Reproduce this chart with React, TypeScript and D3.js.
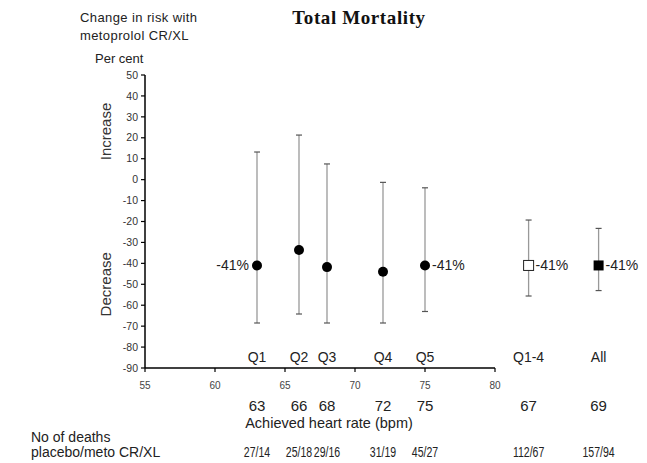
import React from "react";
import * as d3 from "d3";

// quintile groups + pooled results
const groups = ["Q1", "Q2", "Q3", "Q4", "Q5", "Q1-4", "All"];
const heartRate = [63, 66, 68, 72, 75, 67, 69];
// x position on the heart-rate axis (Q1-4 and All sit beyond 80)
const xPos = [63, 66, 68, 72, 75, 82.4, 87.4];
const estimate = [-41, -33.6, -41.8, -44, -41, -41, -41];
const upper = [13.2, 21.3, 7.5, -1.3, -3.9, -19.3, -23.3];
const lower = [-68.5, -64.2, -68.5, -68.5, -63, -55.6, -53];
const deaths = ["27/14", "25/18", "29/16", "31/19", "45/27", "112/67", "157/94"];
const markerType = ["dot", "dot", "dot", "dot", "dot", "open", "filled"];
const pctLabel = ["left", "", "", "", "right", "right", "right"];

const yTicks = d3.range(50, -91, -10);
const xTicks = [55, 60, 65, 70, 75, 80];

const font = "Liberation Sans, Arial, sans-serif";

export default function App() {
  const width = 647;
  const height = 463;

  const x = d3.scaleLinear().domain([55, 80]).range([145, 495]);
  const y = d3.scaleLinear().domain([50, -90]).range([75, 368]);

  const data = groups.map((g, i) => ({
    g,
    hr: heartRate[i],
    x: xPos[i],
    est: estimate[i],
    hi: upper[i],
    lo: lower[i],
    deaths: deaths[i],
    marker: markerType[i],
    label: pctLabel[i],
  }));

  return (
    <svg
      width={width}
      height={height}
      style={{ position: "absolute", left: 0, top: 0, background: "#fff" }}
      fontFamily={font}
    >
      <rect width={width} height={height} fill="#fff" />

      {/* title + axis caption */}
      <text
        x={359}
        y={24}
        textAnchor="middle"
        fontFamily="Liberation Serif, Times New Roman, serif"
        fontWeight="bold"
        fontSize={19}
        letterSpacing={0.6}
        fill="#111"
      >
        Total Mortality
      </text>
      <text x={80} y={22} fontSize={13} letterSpacing={0.4} fill="#222">Change in risk with</text>
      <text x={80} y={40} fontSize={13} letterSpacing={0.4} fill="#222">metoprolol CR/XL</text>
      <text x={95} y={63} fontSize={13} fill="#222">Per cent</text>

      <text transform={`translate(111,${y(23)}) rotate(-90)`} textAnchor="middle" fontSize={15} fill="#333">
        Increase
      </text>
      <text transform={`translate(111,${y(-50)}) rotate(-90)`} textAnchor="middle" fontSize={15} fill="#333">
        Decrease
      </text>

      {/* y axis */}
      <line x1={x(55)} x2={x(55)} y1={y(50)} y2={y(-90)} stroke="#000" strokeWidth={1.5} />
      {yTicks.map((t) => (
        <g key={t}>
          <line x1={x(55) - 4} x2={x(55)} y1={y(t)} y2={y(t)} stroke="#000" strokeWidth={1.2} />
          <text x={x(55) - 7} y={y(t)} dy="0.35em" textAnchor="end" fontSize={10.5} fill="#333">
            {t}
          </text>
        </g>
      ))}

      {/* x axis */}
      <line x1={x(55)} x2={x(80)} y1={y(-90)} y2={y(-90)} stroke="#000" strokeWidth={1.5} />
      {xTicks.map((t) => (
        <g key={t}>
          <line x1={x(t)} x2={x(t)} y1={y(-90)} y2={y(-90) + 4} stroke="#000" strokeWidth={1.2} />
          <text x={x(t)} y={y(-90) + 21} textAnchor="middle" fontSize={10} fill="#444">
            {t}
          </text>
        </g>
      ))}

      {/* error bars and estimates */}
      {data.map((d) => {
        const cx = x(d.x);
        return (
          <g key={d.g}>
            <line x1={cx} x2={cx} y1={y(d.hi)} y2={y(d.lo)} stroke="#999" strokeWidth={1.3} />
            <line x1={cx - 3} x2={cx + 3} y1={y(d.hi)} y2={y(d.hi)} stroke="#555" strokeWidth={1.2} />
            <line x1={cx - 3} x2={cx + 3} y1={y(d.lo)} y2={y(d.lo)} stroke="#555" strokeWidth={1.2} />
            {d.marker === "dot" && <circle cx={cx} cy={y(d.est)} r={5} fill="#000" />}
            {d.marker === "open" && (
              <rect x={cx - 5} y={y(d.est) - 5} width={10} height={10} fill="#fff" stroke="#222" strokeWidth={1} />
            )}
            {d.marker === "filled" && (
              <rect x={cx - 5} y={y(d.est) - 5} width={10} height={10} fill="#000" />
            )}
            {d.label === "left" && (
              <text x={cx - 8} y={y(d.est)} dy="0.35em" textAnchor="end" fontSize={14} fill="#222">
                -41%
              </text>
            )}
            {d.label === "right" && (
              <text x={cx + 7} y={y(d.est)} dy="0.35em" fontSize={14} fill="#222">
                -41%
              </text>
            )}
            <text x={cx} y={y(-90) - 6} textAnchor="middle" fontSize={14} fill="#222">
              {d.g}
            </text>
            <text x={cx} y={y(-90) + 43} textAnchor="middle" fontSize={15} fill="#222">
              {d.hr}
            </text>
            {/* deaths row is set in a condensed face in the original */}
            <text
              transform={`translate(${cx},${y(-90) + 89}) scale(0.68,1)`}
              textAnchor="middle"
              fontSize={15.5}
              fill="#222"
            >
              {d.deaths}
            </text>
          </g>
        );
      })}

      <text x={329} y={428} textAnchor="middle" fontSize={14.5} fill="#222">
        Achieved heart rate (bpm)
      </text>
      <text x={31} y={442} fontSize={14} fill="#222">No of deaths</text>
      <text x={31} y={457} fontSize={14} fill="#222">placebo/meto CR/XL</text>
    </svg>
  );
}
